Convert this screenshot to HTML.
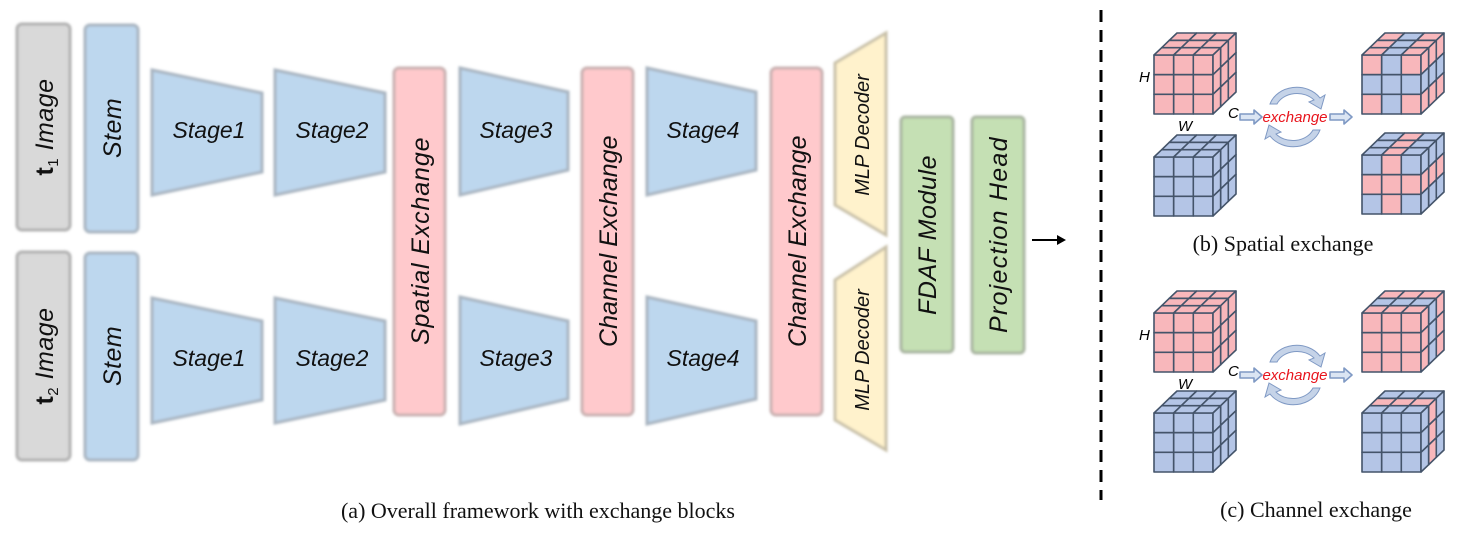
<!DOCTYPE html>
<html><head><meta charset="utf-8">
<style>
html,body{margin:0;padding:0;background:#fff;}
svg{display:block;}
.h{font-family:"Comic Sans MS","Liberation Sans",sans-serif;font-style:italic;font-size:23px;fill:#111;}
.v{font-size:25px;letter-spacing:0.5px;}
.cap{font-family:"Liberation Serif",serif;font-size:22px;fill:#111;}
</style></head>
<body>
<svg id="s" width="1467" height="536" viewBox="0 0 1467 536" xmlns="http://www.w3.org/2000/svg">
<defs><filter id="b" x="-10%" y="-10%" width="120%" height="120%"><feGaussianBlur stdDeviation="1.2"/></filter></defs>
<g filter="url(#b)" stroke-width="3">
<rect x="17" y="24" width="53" height="206" rx="5" fill="#d9d9d9" stroke="#b0b0b0"/>
<rect x="17" y="252" width="53" height="208" rx="5" fill="#d9d9d9" stroke="#b0b0b0"/>
<rect x="85" y="25" width="53" height="207" rx="5" fill="#bdd7ee" stroke="#a8b4c0"/>
<rect x="85" y="253" width="53" height="207" rx="5" fill="#bdd7ee" stroke="#a8b4c0"/>
<polygon points="152,70 262,93 262,172 152,195" fill="#bdd7ee" stroke="#a8b4c0"/>
<polygon points="275,70 385,93 385,172 275,195" fill="#bdd7ee" stroke="#a8b4c0"/>
<polygon points="152,298 262,321 262,400 152,423" fill="#bdd7ee" stroke="#a8b4c0"/>
<polygon points="275,298 385,321 385,400 275,423" fill="#bdd7ee" stroke="#a8b4c0"/>
<polygon points="460,68 568,92 568,170 460,195" fill="#bdd7ee" stroke="#a8b4c0"/>
<polygon points="647,68 756,92 756,170 647,195" fill="#bdd7ee" stroke="#a8b4c0"/>
<polygon points="460,297 568,321 568,399 460,424" fill="#bdd7ee" stroke="#a8b4c0"/>
<polygon points="647,297 756,321 756,399 647,424" fill="#bdd7ee" stroke="#a8b4c0"/>
<rect x="394" y="68" width="51" height="347" rx="5" fill="#ffc9cc" stroke="#c8b0b0"/>
<rect x="582" y="68" width="51" height="347" rx="5" fill="#ffc9cc" stroke="#c8b0b0"/>
<rect x="771" y="68" width="51" height="347" rx="5" fill="#ffc9cc" stroke="#c8b0b0"/>
<polygon points="835,63 886,33 886,235 835,205" fill="#fff2cc" stroke="#c8c0a8"/>
<polygon points="835,280 886,247 886,450 835,420" fill="#fff2cc" stroke="#c8c0a8"/>
<rect x="901" y="117" width="52" height="235" rx="4" fill="#c5e0b4" stroke="#a8b4a0"/>
<rect x="972" y="117" width="52" height="236" rx="4" fill="#c5e0b4" stroke="#a8b4a0"/>
</g>
<g class="h">
<text class="v" transform="translate(53,127) rotate(-90)" text-anchor="middle"><tspan font-style="normal" font-weight="bold">t</tspan><tspan font-size="15" dy="5" font-style="normal">1</tspan><tspan dy="-5">  Image</tspan></text>
<text class="v" transform="translate(53,356) rotate(-90)" text-anchor="middle"><tspan font-style="normal" font-weight="bold">t</tspan><tspan font-size="15" dy="5" font-style="normal">2</tspan><tspan dy="-5">  Image</tspan></text>
<text class="v" transform="translate(121,128) rotate(-90)" text-anchor="middle">Stem</text>
<text class="v" transform="translate(121,356) rotate(-90)" text-anchor="middle">Stem</text>
<text x="209" y="138" text-anchor="middle">Stage1</text>
<text x="332" y="138" text-anchor="middle">Stage2</text>
<text x="209" y="366" text-anchor="middle">Stage1</text>
<text x="332" y="366" text-anchor="middle">Stage2</text>
<text x="516" y="138" text-anchor="middle">Stage3</text>
<text x="703" y="138" text-anchor="middle">Stage4</text>
<text x="516" y="366" text-anchor="middle">Stage3</text>
<text x="703" y="366" text-anchor="middle">Stage4</text>
<text class="v" transform="translate(429,241) rotate(-90)" text-anchor="middle" textLength="208" lengthAdjust="spacing">Spatial Exchange</text>
<text class="v" transform="translate(617,241) rotate(-90)" text-anchor="middle" textLength="212" lengthAdjust="spacing">Channel Exchange</text>
<text class="v" transform="translate(806,241) rotate(-90)" text-anchor="middle" textLength="212" lengthAdjust="spacing">Channel Exchange</text>
<text transform="translate(869,135) rotate(-90)" text-anchor="middle" font-size="20">MLP Decoder</text>
<text transform="translate(869,350) rotate(-90)" text-anchor="middle" font-size="20">MLP Decoder</text>
<text class="v" transform="translate(936,235) rotate(-90)" text-anchor="middle" textLength="160" lengthAdjust="spacing">FDAF Module</text>
<text class="v" transform="translate(1007,235) rotate(-90)" text-anchor="middle" textLength="196" lengthAdjust="spacing">Projection Head</text>
</g>
<line x1="1032" y1="240" x2="1060" y2="240" stroke="#000" stroke-width="2"/>
<polygon points="1066,240 1057,235 1057,245" fill="#000"/>
<line x1="1101" y1="10" x2="1101" y2="500" stroke="#000" stroke-width="3" stroke-dasharray="12,8"/>
<text class="cap" x="538" y="518" text-anchor="middle">(a) Overall framework with exchange blocks</text>
<text class="cap" x="1283" y="251" text-anchor="middle">(b) Spatial exchange</text>
<text class="cap" x="1316" y="517" text-anchor="middle">(c) Channel exchange</text>
<g id="cubes"></g>
</svg>
<script>
(function(){
var g=document.getElementById('cubes'),ns='http://www.w3.org/2000/svg';
var P='#f8b7bb',B='#b4c5e6',S='#44546a';
function poly(pts,f){var p=document.createElementNS(ns,'polygon');p.setAttribute('points',pts.map(function(a){return a[0].toFixed(1)+','+a[1].toFixed(1)}).join(' '));p.setAttribute('fill',f);p.setAttribute('stroke',S);p.setAttribute('stroke-width','1.6');p.setAttribute('stroke-linejoin','round');g.appendChild(p);return p;}
function text(x,y,t,extra){var e=document.createElementNS(ns,'text');e.setAttribute('x',x);e.setAttribute('y',y);e.textContent=t;for(var k in extra)e.setAttribute(k,extra[k]);g.appendChild(e);}
function cube(x0,y0,fr,tp,sd){var s=59/3,dx=23/3,dy=-22/3;
 for(var r=0;r<3;r++)for(var c=0;c<3;c++){var x=x0+c*s,y=y0+r*s;poly([[x,y],[x+s,y],[x+s,y+s],[x,y+s]],fr(r,c));}
 for(var c=0;c<3;c++)for(var k=0;k<3;k++){var x=x0+c*s+k*dx,y=y0+k*dy;poly([[x,y],[x+s,y],[x+s+dx,y+dy],[x+dx,y+dy]],tp(c,k));}
 for(var k=0;k<3;k++)for(var r=0;r<3;r++){var x=x0+59+k*dx,y=y0+r*s+k*dy;poly([[x,y],[x+dx,y+dy],[x+dx,y+s+dy],[x,y+s]],sd(k,r));}
}
function K(c){return function(){return c;};}
function inv(c){return c==P?B:P;}
function exch(yo){
 var b='#7f99c4';
 [[1240,117+yo],[1330,117+yo]].forEach(function(a){var x=a[0],y=a[1];
  var p=poly([[x,y-3],[x+14,y-3],[x+14,y-7],[x+22,y],[x+14,y+7],[x+14,y+3],[x,y+3]],'#dbe5f3');p.setAttribute('stroke',b);});
 var p=document.createElementNS(ns,'path');p.setAttribute('d','M1270,'+(104+yo)+' A28,24 0 0 1 1320,'+(98+yo)+' l5,-3 l-4,14 l-12,-7 l5,-2 A22,18 0 0 0 1277,'+(104+yo)+' Z');p.setAttribute('fill','#c5d3e8');p.setAttribute('stroke',b);g.appendChild(p);
 var q=document.createElementNS(ns,'path');q.setAttribute('d','M1320,'+(130+yo)+' A28,24 0 0 1 1270,'+(136+yo)+' l-5,3 l4,-14 l12,7 l-5,2 A22,18 0 0 0 1313,'+(130+yo)+' Z');q.setAttribute('fill','#c5d3e8');q.setAttribute('stroke',b);g.appendChild(q);
 text(1295,122+yo,'exchange',{'text-anchor':'middle','fill':'#e8141c','font-family':'Comic Sans MS, Liberation Sans, sans-serif','font-style':'italic','font-size':'15'});
 text(1139,82+yo,'H',{'font-family':'Liberation Sans, sans-serif','font-style':'italic','font-size':'15'});
 text(1178,131+yo,'W',{'font-family':'Liberation Sans, sans-serif','font-style':'italic','font-size':'15'});
 text(1228,118+yo,'C',{'font-family':'Liberation Sans, sans-serif','font-style':'italic','font-size':'15'});
}
cube(1154,55,K(P),K(P),K(P));cube(1154,157,K(B),K(B),K(B));
var sp=function(r,c){return (r==1||c==1)?B:P;};
cube(1362,55,sp,function(c,k){return c==1?B:P;},function(k,r){return r==1?B:P;});
cube(1362,155,function(r,c){return inv(sp(r,c));},function(c,k){return c==1?P:B;},function(k,r){return r==1?P:B;});
exch(0);
cube(1154,313,K(P),K(P),K(P));cube(1154,413,K(B),K(B),K(B));
cube(1362,313,K(P),function(c,k){return k==1?B:P;},function(k,r){return k==1?B:P;});
cube(1362,413,K(B),function(c,k){return k==1?P:B;},function(k,r){return k==1?P:B;});
exch(258);
})();
</script>
</body></html>
